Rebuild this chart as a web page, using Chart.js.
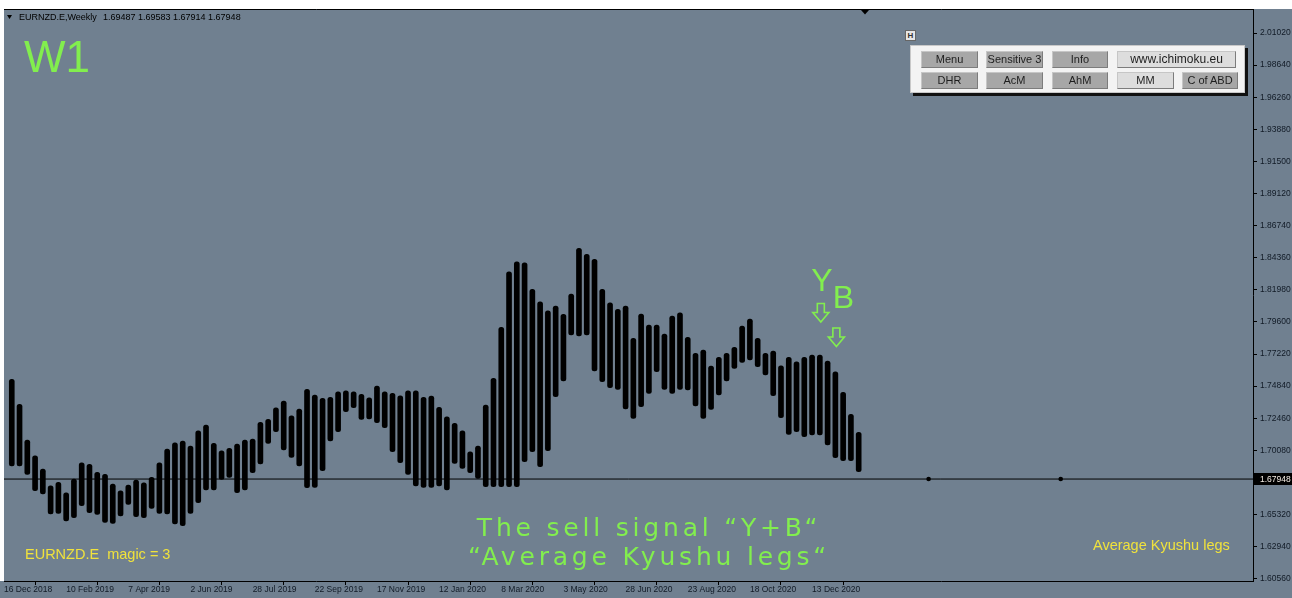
<!DOCTYPE html>
<html><head><meta charset="utf-8">
<script src="https://cdn.jsdelivr.net/npm/chart.js@4.4.0/dist/chart.umd.min.js"></script>
<style>
html,body{margin:0;padding:0;background:#708090;overflow:hidden;}
#wrap{position:relative;width:1292px;height:598px;}
canvas{display:block;}
.panel{position:absolute;left:910px;top:45px;width:335px;height:48px;background:#f3f3f3;border:1px solid #c8c8c8;box-sizing:border-box;box-shadow:3px 3px 0 #111;}
.btn{position:absolute;height:17px;background:#a7a7a7;color:#1e1e1e;font:11px 'Liberation Sans',Arial,sans-serif;line-height:15px;text-align:center;border-top:1px solid #c6c6c6;border-left:1px solid #c6c6c6;border-bottom:1px solid #7c7c7c;border-right:1px solid #7c7c7c;box-sizing:border-box;white-space:nowrap;}
.light{background:#dddddd;font-size:12px;}
.hb{position:absolute;left:905px;top:30px;width:11px;height:11px;background:#e6e6e6;border:1px solid #666;box-sizing:border-box;font:bold 8px 'Liberation Sans',sans-serif;line-height:9px;text-align:center;color:#333;}
</style></head>
<body><div id="wrap"><canvas id="c" width="1292" height="598"></canvas>
<div class="hb">H</div>
<div class="panel">
 <div class="btn" style="left:10px;top:5px;width:57px">Menu</div>
 <div class="btn" style="left:75px;top:5px;width:57px">Sensitive 3</div>
 <div class="btn" style="left:141px;top:5px;width:56px">Info</div>
 <div class="btn light" style="left:206px;top:5px;width:119px">www.ichimoku.eu</div>
 <div class="btn" style="left:10px;top:26px;width:57px">DHR</div>
 <div class="btn" style="left:75px;top:26px;width:57px">AcM</div>
 <div class="btn" style="left:141px;top:26px;width:56px">AhM</div>
 <div class="btn light" style="left:206px;top:26px;width:57px;font-size:11px">MM</div>
 <div class="btn" style="left:271px;top:26px;width:56px">C of ABD</div>
</div></div>
<script>
// Weekly bars (index 0 = 23 Dec 2018), Average Kyushu legs: high / low
const barHigh = [1.75343,1.73490,1.70843,1.69679,1.68692,1.67454,1.67706,1.66935,1.67951,1.69159,
1.69041,1.68448,1.68299,1.67580,1.67083,1.67506,1.67877,1.67677,1.68077,1.69159,
1.70175,1.70642,1.70768,1.70398,1.71532,1.71955,1.70598,1.70049,1.70227,1.70546,
1.70843,1.70917,1.72155,1.72377,1.73238,1.73734,1.72644,1.73141,1.74602,1.74179,
1.73934,1.74009,1.74424,1.74498,1.74424,1.74231,1.73979,1.74846,1.74424,1.74305,
1.74127,1.74498,1.74498,1.74009,1.74105,1.73267,1.72570,1.72081,1.71532,1.69975,
1.70398,1.73438,1.75417,1.79199,1.83321,1.84063,1.83989,1.82016,1.81097,1.80430,
1.80778,1.80163,1.81668,1.85056,1.84611,1.84241,1.82016,1.81023,1.80533,1.80778,
1.78383,1.80185,1.79369,1.79369,1.78702,1.80037,1.80281,1.78457,1.77271,1.77516,
1.76329,1.76974,1.77271,1.77716,1.79295,1.79814,1.78383,1.77271,1.77442,1.76352,
1.76974,1.76648,1.76974,1.77145,1.77145,1.76700,1.75907,1.74379,1.72748,1.71414];
const barLow = [1.68915,1.68915,1.68299,1.67083,1.66839,1.65356,1.65408,1.64837,1.65081,1.65971,
1.65452,1.65334,1.64740,1.64666,1.65208,1.66075,1.65156,1.65081,1.65778,1.65408,
1.65356,1.64614,1.64488,1.65408,1.66194,1.67135,1.67135,1.67929,1.68077,1.66935,
1.67135,1.68418,1.69063,1.70598,1.71458,1.70101,1.69560,1.68915,1.67306,1.67335,
1.68566,1.70768,1.71458,1.72941,1.73238,1.72377,1.72400,1.72125,1.71755,1.69975,
1.69159,1.68299,1.67432,1.67335,1.67335,1.67432,1.67135,1.69115,1.68744,1.68418,
1.68003,1.67380,1.67380,1.67380,1.67380,1.67380,1.69234,1.69975,1.68863,1.70049,
1.74053,1.75217,1.78628,1.78554,1.78628,1.75959,1.75165,1.74720,1.74602,1.73141,
1.72452,1.73312,1.74305,1.75907,1.74602,1.74305,1.74602,1.74550,1.73363,1.72452,
1.73119,1.74179,1.75217,1.76159,1.76604,1.76774,1.76278,1.75662,1.74127,1.72496,
1.71265,1.71458,1.71087,1.71213,1.71213,1.70472,1.69530,1.69308,1.69308,1.68492];
const closePrice = 1.67948;
const markerIdx = [118, 135];
const xTickPos = [-1,7,15,23,31,39,47,55,63,71,79,87,95,103];
const xTickLabels = ["16 Dec 2018","10 Feb 2019","7 Apr 2019","2 Jun 2019","28 Jul 2019","22 Sep 2019","17 Nov 2019","12 Jan 2020","8 Mar 2020","3 May 2020","28 Jun 2020","23 Aug 2020","18 Oct 2020","13 Dec 2020"];
const yTickLabels = ["2.01020","1.98640","1.96260","1.93880","1.91500","1.89120","1.86740","1.84360","1.81980","1.79600","1.77220","1.74840","1.72460","1.70080","1.67700","1.65320","1.62940","1.60560"];
const headerText = ["EURNZD.E,Weekly", "1.69487 1.69583 1.67914 1.67948"];
const signalIdx = {Y:104, B:106};

const BG='#708090', GREEN='#82ee4e', YEL='#f0e23c';
const deco = {
  id:'deco',
  beforeDraw(chart){
    const {ctx,width,height}=chart;
    ctx.save();
    ctx.fillStyle=BG; ctx.fillRect(0,0,width,height);
    ctx.fillStyle='#ffffff'; ctx.fillRect(0,0,width,9); ctx.fillRect(0,0,4,581);
    ctx.restore();
  },
  afterDraw(chart){
    const {ctx, chartArea:a, scales:{x,y}} = chart;
    ctx.save();
    ctx.strokeStyle='#000'; ctx.lineWidth=1;
    ctx.beginPath(); ctx.moveTo(a.left, a.top+0.5); ctx.lineTo(a.right+1, a.top+0.5); ctx.stroke();
    // shift marker
    ctx.fillStyle='#000';
    ctx.beginPath(); ctx.moveTo(861,10); ctx.lineTo(869,10); ctx.lineTo(865,14.5); ctx.closePath(); ctx.fill();
    // header
    ctx.beginPath(); ctx.moveTo(7,15); ctx.lineTo(12,15); ctx.lineTo(9.5,19); ctx.closePath(); ctx.fill();
    ctx.font='9px "Liberation Sans", Arial, sans-serif'; ctx.textBaseline='middle'; ctx.textAlign='left';
    ctx.fillText(headerText[0], 19, 17.5);
    ctx.fillText(headerText[1], 103, 17.5);
    // W1
    ctx.fillStyle=GREEN; ctx.textBaseline='alphabetic';
    ctx.font='44px "Liberation Sans", Arial, sans-serif';
    ctx.fillText('W1', 24, 72);
    // yellow texts
    ctx.fillStyle=YEL; ctx.font='14.5px "Liberation Sans", Arial, sans-serif';
    ctx.fillText('EURNZD.E  magic = 3', 25, 559);
    ctx.fillText('Average Kyushu legs', 1093, 550);
    // green signal text
    ctx.fillStyle=GREEN; ctx.textAlign='center';
    ctx.font='25px "DejaVu Sans", sans-serif';
    try { ctx.letterSpacing='3.8px'; } catch(e){}
    ctx.fillText('The sell signal \u201cY+B\u201c', 649, 536);
    ctx.fillText('\u201cAverage Kyushu legs\u201c', 649, 565);
    try { ctx.letterSpacing='0px'; } catch(e){}
    // Y / B markers
    const xy = x.getPixelForValue(signalIdx.Y), xb = x.getPixelForValue(signalIdx.B);
    ctx.font='32px "Liberation Sans", Arial, sans-serif';
    ctx.fillText('Y', xy+2, 291);
    ctx.fillText('B', xb+8, 308);
    const arrow=(cx,ty)=>{
      ctx.beginPath();
      ctx.moveTo(cx-3.5,ty); ctx.lineTo(cx+3.5,ty); ctx.lineTo(cx+3.5,ty+9); ctx.lineTo(cx+8,ty+9);
      ctx.lineTo(cx,ty+18.5); ctx.lineTo(cx-8,ty+9); ctx.lineTo(cx-3.5,ty+9); ctx.closePath();
      ctx.strokeStyle=GREEN; ctx.lineWidth=1.6; ctx.stroke();
    };
    arrow(xy+1, 303.5);
    arrow(xb+1, 328);
    // price label
    const yp = y.getPixelForValue(closePrice);
    ctx.fillStyle='#000'; ctx.fillRect(a.right+1, Math.round(yp)-6, 40, 12);
    ctx.fillStyle='#f4ece4'; ctx.textAlign='left'; ctx.textBaseline='middle';
    ctx.font='8.5px "Liberation Sans", Arial, sans-serif';
    ctx.fillText(closePrice.toFixed(5), a.right+7, Math.round(yp)+0.5);
    ctx.restore();
  }
};

new Chart(document.getElementById('c'), {
  type:'bar',
  data:{datasets:[
    {type:'line', data:[{x:-1,y:closePrice},{x:159.75,y:closePrice}], borderColor:'#000', borderWidth:1, pointRadius:0, order:3},
    {type:'bar', data: barHigh.map((h,i)=>({x:i,y:[barLow[i],h]})), backgroundColor:'#000', barThickness:5, borderRadius:3, borderSkipped:false, order:2},
    {type:'scatter', data: markerIdx.map(i=>({x:i,y:closePrice})), pointRadius:2.3, backgroundColor:'#000', borderWidth:0, order:1}
  ]},
  options:{
    responsive:false, animation:false, devicePixelRatio:1,
    layout:{padding:{left:4,top:9,right:0,bottom:0}},
    plugins:{legend:{display:false}, tooltip:{enabled:false}},
    scales:{
      x:{type:'linear', min:-1, max:159.75, offset:false, bounds:'data',
        grid:{drawOnChartArea:false, drawTicks:true, tickLength:4, color:'#000'},
        border:{display:true, color:'#000', width:1},
        afterBuildTicks(s){ s.ticks = xTickPos.map(v=>({value:v})); },
        afterFit(s){ s.height=17; },
        ticks:{autoSkip:false, maxRotation:0, minRotation:0, align:'start', padding:0, color:'#111a26',
          font:{family:'"Liberation Sans", Arial, sans-serif', size:8.5}, callback:(v,i)=>xTickLabels[i]}
      },
      y:{type:'linear', position:'right', min:1.6039, max:2.0280, bounds:'data',
        grid:{drawOnChartArea:false, drawTicks:true, tickLength:4, color:'#000'},
        border:{display:true, color:'#000', width:1},
        afterBuildTicks(s){ s.ticks = yTickLabels.map(t=>({value:parseFloat(t)})).sort((p,q)=>p.value-q.value); },
        afterFit(s){ s.width=39; },
        ticks:{autoSkip:false, padding:3, color:'#111a26',
          font:{family:'"Liberation Sans", Arial, sans-serif', size:8.5}, callback:(v)=>Number(v).toFixed(5)}
      }
    }
  },
  plugins:[deco]
});
</script>
</body></html>
